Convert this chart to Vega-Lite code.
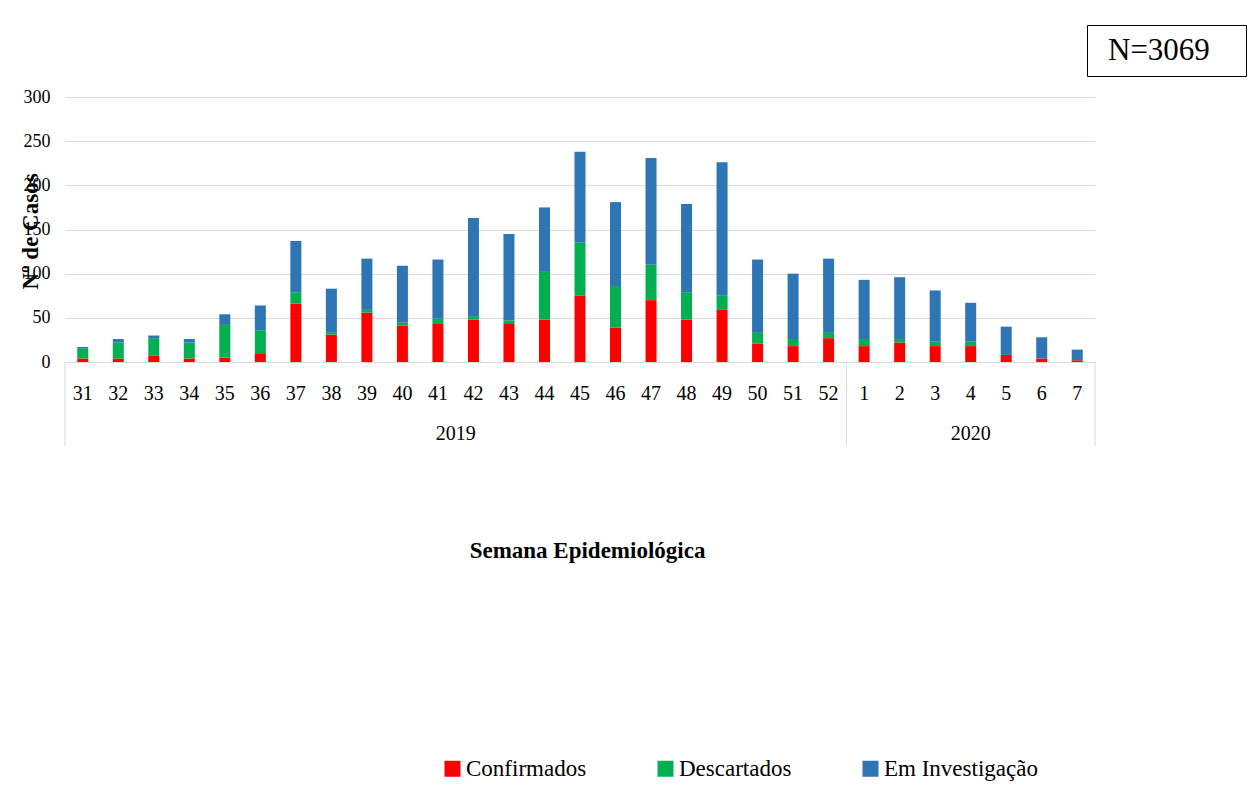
{
  "$schema": "https://vega.github.io/schema/vega-lite/v6.json",
  "width": 1030,
  "height": 265,
  "autosize": {"type": "none"},
  "padding": {"left": 65, "top": 97, "right": 161, "bottom": 434},
  "background": "white",
  "config": {"font": "Liberation Serif", "view": {"stroke": null}},
  "datasets": {
    "semanas": [
      {"semana": 31, "ano": "2019", "Confirmados": 4, "Descartados": 11, "Em Investigação": 2},
      {"semana": 32, "ano": "2019", "Confirmados": 4, "Descartados": 18, "Em Investigação": 4},
      {"semana": 33, "ano": "2019", "Confirmados": 7, "Descartados": 20, "Em Investigação": 3},
      {"semana": 34, "ano": "2019", "Confirmados": 4, "Descartados": 18, "Em Investigação": 4},
      {"semana": 35, "ano": "2019", "Confirmados": 5, "Descartados": 37, "Em Investigação": 12},
      {"semana": 36, "ano": "2019", "Confirmados": 10, "Descartados": 26, "Em Investigação": 28},
      {"semana": 37, "ano": "2019", "Confirmados": 66, "Descartados": 13, "Em Investigação": 58},
      {"semana": 38, "ano": "2019", "Confirmados": 31, "Descartados": 2, "Em Investigação": 50},
      {"semana": 39, "ano": "2019", "Confirmados": 56, "Descartados": 3, "Em Investigação": 58},
      {"semana": 40, "ano": "2019", "Confirmados": 41, "Descartados": 4, "Em Investigação": 64},
      {"semana": 41, "ano": "2019", "Confirmados": 43, "Descartados": 6, "Em Investigação": 67},
      {"semana": 42, "ano": "2019", "Confirmados": 48, "Descartados": 4, "Em Investigação": 111},
      {"semana": 43, "ano": "2019", "Confirmados": 43, "Descartados": 4, "Em Investigação": 98},
      {"semana": 44, "ano": "2019", "Confirmados": 48, "Descartados": 54, "Em Investigação": 73},
      {"semana": 45, "ano": "2019", "Confirmados": 75, "Descartados": 60, "Em Investigação": 103},
      {"semana": 46, "ano": "2019", "Confirmados": 39, "Descartados": 47, "Em Investigação": 95},
      {"semana": 47, "ano": "2019", "Confirmados": 70, "Descartados": 40, "Em Investigação": 121},
      {"semana": 48, "ano": "2019", "Confirmados": 48, "Descartados": 31, "Em Investigação": 100},
      {"semana": 49, "ano": "2019", "Confirmados": 59, "Descartados": 16, "Em Investigação": 151},
      {"semana": 50, "ano": "2019", "Confirmados": 21, "Descartados": 12, "Em Investigação": 83},
      {"semana": 51, "ano": "2019", "Confirmados": 18, "Descartados": 8, "Em Investigação": 74},
      {"semana": 52, "ano": "2019", "Confirmados": 27, "Descartados": 6, "Em Investigação": 84},
      {"semana": 1, "ano": "2020", "Confirmados": 18, "Descartados": 8, "Em Investigação": 67},
      {"semana": 2, "ano": "2020", "Confirmados": 22, "Descartados": 4, "Em Investigação": 70},
      {"semana": 3, "ano": "2020", "Confirmados": 18, "Descartados": 5, "Em Investigação": 58},
      {"semana": 4, "ano": "2020", "Confirmados": 18, "Descartados": 5, "Em Investigação": 44},
      {"semana": 5, "ano": "2020", "Confirmados": 8, "Descartados": 0, "Em Investigação": 32},
      {"semana": 6, "ano": "2020", "Confirmados": 4, "Descartados": 0, "Em Investigação": 24},
      {"semana": 7, "ano": "2020", "Confirmados": 2, "Descartados": 0, "Em Investigação": 12}
    ]
  },
  "layer": [
    {
      "data": {"name": "semanas"},
      "transform": [{"fold": ["Confirmados", "Descartados", "Em Investigação"], "as": ["situacao", "casos"]}],
      "mark": {"type": "bar", "width": {"band": 0.31}},
      "encoding": {
        "x": {
          "field": "semana",
          "type": "ordinal",
          "scale": {"domain": [31, 32, 33, 34, 35, 36, 37, 38, 39, 40, 41, 42, 43, 44, 45, 46, 47, 48, 49, 50, 51, 52, 1, 2, 3, 4, 5, 6, 7], "paddingInner": 0, "paddingOuter": 0},
          "axis": {
            "title": "Semana Epidemiológica",
            "titleFont": "Liberation Serif",
            "titleFontSize": 23,
            "titleFontWeight": "bold",
            "titleColor": "black",
            "titleX": 522,
            "titleY": 195,
            "titleAlign": "center",
            "titleBaseline": "alphabetic",
            "labelFont": "Liberation Serif",
            "labelFontSize": 20,
            "labelColor": "black",
            "labelAngle": 0,
            "labelPadding": 21,
            "ticks": false,
            "tickSize": 0,
            "grid": false,
            "domainColor": "#d9d9d9",
            "domainWidth": 1
          }
        },
        "y": {
          "field": "casos",
          "type": "quantitative",
          "stack": "zero",
          "scale": {"domain": [0, 300], "nice": false},
          "axis": {
            "title": "Nº de Casos",
            "titleFont": "Liberation Serif",
            "titleFontSize": 23,
            "titleFontWeight": "bold",
            "titleColor": "black",
            "titleAngle": -90,
            "titleX": -28,
            "titleY": 134,
            "titleAlign": "center",
            "titleBaseline": "alphabetic",
            "values": [0, 50, 100, 150, 200, 250, 300],
            "labelFont": "Liberation Serif",
            "labelFontSize": 18,
            "labelColor": "black",
            "labelPadding": 15,
            "ticks": false,
            "tickSize": 0,
            "domain": false,
            "grid": true,
            "gridColor": "#d9d9d9",
            "gridWidth": 1
          }
        },
        "order": {"field": "situacao", "sort": "ascending"},
        "color": {
          "field": "situacao",
          "type": "nominal",
          "scale": {"domain": ["Confirmados", "Descartados", "Em Investigação"], "range": ["#FF0000", "#00B050", "#2E75B6"]},
          "legend": {
            "title": null,
            "orient": "none",
            "direction": "horizontal",
            "legendX": 376,
            "legendY": 660,
            "symbolType": "square",
            "symbolSize": 256,
            "symbolStrokeWidth": 0,
            "labelFont": "Liberation Serif",
            "labelFontSize": 23,
            "labelColor": "black",
            "labelOffset": 2,
            "labelLimit": 400,
            "columnPadding": 67,
            "padding": 0
          }
        }
      }
    },
    {
      "data": {"values": [{"semana": 31}, {"semana": 1}]},
      "mark": {"type": "rule", "color": "#d9d9d9", "strokeWidth": 1},
      "encoding": {
        "x": {"field": "semana", "type": "ordinal", "bandPosition": 0},
        "y": {"datum": 0},
        "y2": {"datum": -95}
      }
    },
    {
      "data": {"values": [{"semana": 7}]},
      "mark": {"type": "rule", "color": "#d9d9d9", "strokeWidth": 1},
      "encoding": {
        "x": {"field": "semana", "type": "ordinal", "bandPosition": 1},
        "y": {"datum": 0},
        "y2": {"datum": -95}
      }
    },
    {
      "data": {"values": [{"semana": 41, "ano": "2019"}]},
      "mark": {"type": "text", "font": "Liberation Serif", "fontSize": 20, "color": "black", "baseline": "alphabetic", "align": "center"},
      "encoding": {
        "x": {"field": "semana", "type": "ordinal", "bandPosition": 1},
        "y": {"datum": -88},
        "text": {"field": "ano"}
      }
    },
    {
      "data": {"values": [{"semana": 4, "ano": "2020"}]},
      "mark": {"type": "text", "font": "Liberation Serif", "fontSize": 20, "color": "black", "baseline": "alphabetic", "align": "center"},
      "encoding": {
        "x": {"field": "semana", "type": "ordinal", "bandPosition": 0.5},
        "y": {"datum": -88},
        "text": {"field": "ano"}
      }
    },
    {
      "data": {"values": [{"n": "N=3069"}]},
      "mark": {"type": "point", "opacity": 0},
      "encoding": {
        "shape": {
          "field": "n",
          "type": "nominal",
          "legend": {
            "title": null,
            "orient": "none",
            "legendX": 1022,
            "legendY": -72,
            "symbolType": "square",
            "symbolSize": 625,
            "symbolOffset": 111,
            "symbolOpacity": 0,
            "symbolStrokeWidth": 0,
            "labelFont": "Liberation Serif",
            "labelFontSize": 31,
            "labelColor": "black",
            "labelAlign": "left",
            "labelOffset": -131,
            "labelLimit": 400,
            "padding": 10,
            "strokeColor": "black",
            "encode": {"legend": {"update": {"strokeWidth": {"value": 2}}}}
          }
        }
      }
    }
  ]
}
